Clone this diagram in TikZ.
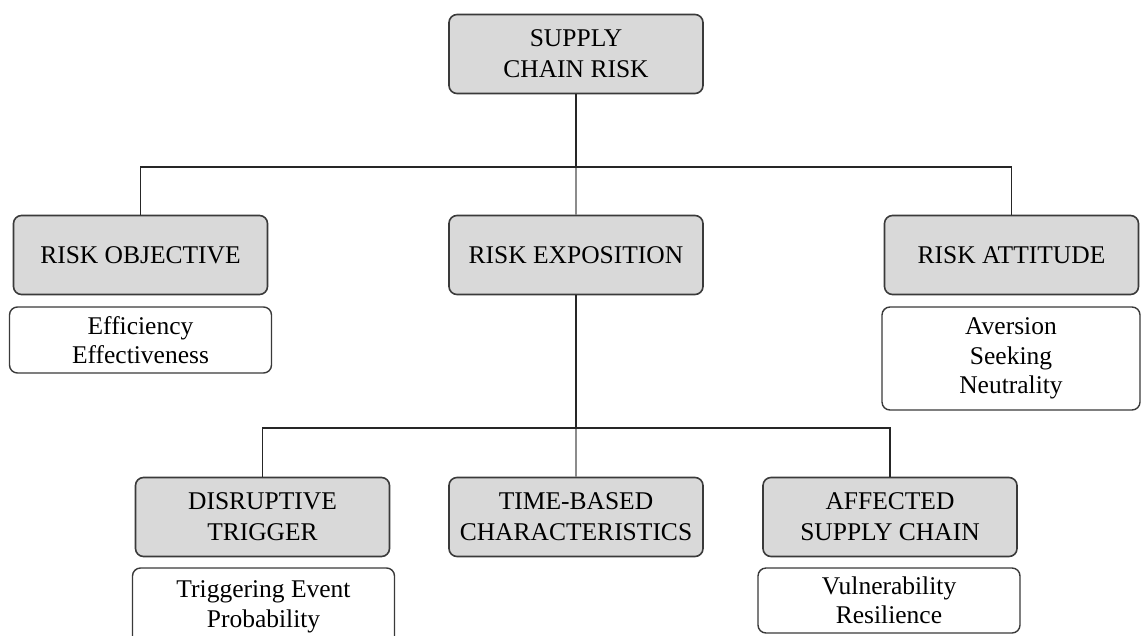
\documentclass[tikz,border=0pt]{standalone}
\usepackage{fontspec}
\setmainfont{Liberation Serif}
\usetikzlibrary{positioning}
\definecolor{boxgrey}{HTML}{D9D9D9}
\definecolor{edgegrey}{HTML}{3A3A3A}
\definecolor{stemgrey}{HTML}{8C8C8C}

\begin{document}
\begin{tikzpicture}[x=1pt,y=-1pt,
      riskbox/.style={draw=edgegrey,fill=boxgrey,rounded corners=8pt,line width=1.6pt,minimum width=254pt,minimum height=79pt,inner sep=0pt,align=center,font=\fontsize{25.5}{31}\selectfont},
      subbox/.style={draw=edgegrey,fill=white,rounded corners=8pt,line width=1.4pt,minimum width=262pt,inner sep=0pt,align=center,font=\fontsize{25.5}{29.5}\selectfont},
      trunk/.style={black!85,line width=2.6pt},
      branch/.style={black!85,line width=1.4pt},
      stem/.style={stemgrey,line width=2pt}]
    \useasboundingbox (0,0) rectangle (1142,635);
    % top level
    \node[riskbox] (chainrisk) at (576,54) {SUPPLY\\CHAIN RISK};
    \node[riskbox] (objective) at (140.5,255) {RISK OBJECTIVE};
    \node[riskbox] (exposition) at (576,255) {RISK EXPOSITION};
    \node[riskbox] (attitude) at (1011.5,255) {RISK ATTITUDE};
    \node[subbox,minimum height=66pt] (objectivesub) at (140.5,340) {Efficiency\\Effectiveness};
    \node[subbox,minimum height=103pt,minimum width=258pt] (attitudesub) at (1011,358.5) {Aversion\\Seeking\\Neutrality};
    % second level
    \node[riskbox] (trigger) at (262.5,517) {DISRUPTIVE\\TRIGGER};
    \node[riskbox] (timebased) at (576,517) {TIME-BASED\\CHARACTERISTICS};
    \node[riskbox] (affected) at (890,517) {AFFECTED\\SUPPLY CHAIN};
    \node[subbox,minimum height=78pt,text depth=6pt] (triggersub) at (263.5,607) {Triggering Event\\Probability};
    \node[subbox,minimum height=65pt] (affectedsub) at (889,600.5) {Vulnerability\\Resilience};
    % connectors
    \coordinate (upbar) at (576,167);
    \coordinate (lowbar) at (576,428);
    \draw[stem] (upbar) -- (exposition.north);
    \draw[branch] (objective.north) |- (upbar) -| (attitude.north);
    \draw[trunk] (chainrisk.south) -- (upbar);
    \draw[stem] (lowbar) -- (timebased.north);
    \draw[branch] (trigger.north) |- (lowbar) -| (affected.north);
    \draw[trunk] (exposition.south) -- (lowbar);
  \end{tikzpicture}
\end{document}
